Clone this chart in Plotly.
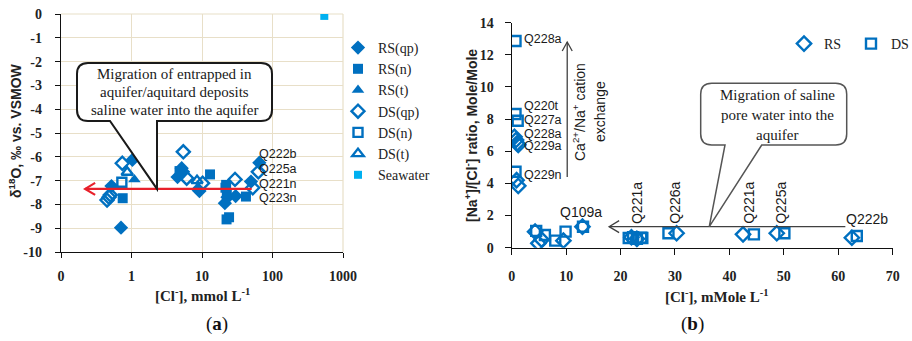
import math
import plotly.graph_objects as go

W, H = 912, 341
BLUE = "#0070C0"
SEA = "#00B0F0"
SERIF = "Liberation Serif"
SANS = "Liberation Sans"
GRID = "#E8DFC8"

# ---------------- panel (a): d18O versus chloride (log scale) ----------------
rs_qp_cl = [1.03, 0.52, 0.71, 4.5, 5.15, 5.4, 9.2, 8.8, 21.1, 23.0, 30.0, 49.5, 65.0]
rs_qp_d18o = [-6.13, -7.23, -8.98, -6.85, -6.48, -6.63, -7.44, -7.37, -7.95, -7.7, -7.65, -7.04, -6.25]
rs_n_cl = [0.75, 4.8, 13.0, 22.0, 22.5, 21.5, 22.3, 24.2, 42.0]
rs_n_d18o = [-7.74, -6.6, -6.74, -7.18, -7.53, -7.3, -8.63, -8.54, -7.67]
rs_t_cl = [1.1]
rs_t_d18o = [-6.95]
ds_qp_cl = [0.74, 0.45, 0.48, 0.5, 5.43, 6.07, 10.2, 29.4, 52.5, 63.0]
ds_qp_d18o = [-6.27, -7.82, -7.7, -7.6, -5.79, -6.9, -7.11, -6.95, -7.3, -6.63]
ds_n_cl = [0.73]
ds_n_d18o = [-7.07]
ds_t_cl = [0.87, 8.5]
ds_t_d18o = [-6.65, -7.0]
sea_cl = [543]
sea_d18o = [-0.08]

a_xtickvals = [0.1, 1, 10, 100, 1000]
a_xticktext = ["0", "1", "10", "100", "1000"]
a_ytickvals = [-10, -9, -8, -7, -6, -5, -4, -3, -2, -1, 0]
a_yticktext = ["-10", "-9", "-8", "-7", "-6", "-5", "-4", "-3", "-2", "-1", "0"]
a_labels = ["Q222b", "Q225a", "Q221n", "Q223n"]
a_label_y = [-5.9, -6.52, -7.15, -7.72]
a_label_x = 61.0
mix_line_y = -7.35
mix_line_from, mix_line_to = 50.7, 0.22
a_callout_apex = (2.3, -7.35)
a_callout_lines = ["Migration of entrapped in", "aquifer/aquitard deposits",
                   "saline water into the aquifer"]

# ---------------- panel (b): Na/Cl ratio versus chloride ----------------
rs_cl_b = [0.5, 0.8, 1.0, 1.2, 0.9, 1.2, 4.3, 4.9, 5.5, 9.5, 13.0, 22.0, 23.0, 30.3, 42.5, 48.7, 62.5]
rs_ratio = [6.9, 6.7, 6.5, 6.4, 4.2, 3.85, 1.0, 0.27, 0.5, 0.44, 1.31, 0.65, 0.55, 0.9, 0.83, 0.9, 0.62]
ds_cl_b = [0.7, 0.7, 1.1, 0.7, 4.5, 6.1, 8.0, 9.9, 13.1, 21.5, 22.3, 23.0, 23.8, 24.0, 28.8, 44.5, 50.1, 63.4]
ds_ratio = [12.86, 8.32, 7.9, 4.73, 1.05, 0.79, 0.44, 1.0, 1.3, 0.6, 0.65, 0.55, 0.62, 0.6, 0.9, 0.83, 0.9, 0.73]

b_xtickvals = [0, 10, 20, 30, 40, 50, 60, 70]
b_ytickvals = [0, 2, 4, 6, 8, 10, 12, 14]
b_left_labels = ["Q228a", "Q220t", "Q227a", "Q228a", "Q229a", "Q229n"]
b_left_label_y = [13.0, 8.8, 7.95, 7.1, 6.3, 4.5]
b_left_label_x = 1.85
b_vert_labels = ["Q221a", "Q226a", "Q221a", "Q225a"]
b_vert_label_x = [22.9, 30.0, 43.6, 49.5]
b_vert_label_y = 2.8
b_h_labels = [("Q109a", 8.5, 2.2), ("Q222b", 61.0, 1.8)]
exch_arrow_x, exch_arrow_from, exch_arrow_to = 10.2, 4.4, 12.8
pore_arrow_y, pore_arrow_from, pore_arrow_to = 1.31, 61.3, 17.9
b_callout_apex = (36.3, 1.31)
b_callout_lines = ["Migration of saline", "pore water into the", "aquifer"]

# panel placement (paper fractions of the 912 x 341 page)
ax_dom = [61 / W, 343 / W]
ay_dom = [1 - 252 / H, 1 - 14 / H]
bx_dom = [511.7 / W, 892.7 / W]
by_dom = [1 - 247.7 / H, 1 - 22.7 / H]
a_xrange = [-1, 3]
a_yrange = [-10, 0]
b_xrange = [0, 70]
b_yrange = [0, 14]


def ax_p(v):
    return ax_dom[0] + (math.log10(v) - a_xrange[0]) / (a_xrange[1] - a_xrange[0]) * (ax_dom[1] - ax_dom[0])


def ay_p(v):
    return ay_dom[0] + (v - a_yrange[0]) / (a_yrange[1] - a_yrange[0]) * (ay_dom[1] - ay_dom[0])


def bx_p(v):
    return bx_dom[0] + (v - b_xrange[0]) / (b_xrange[1] - b_xrange[0]) * (bx_dom[1] - bx_dom[0])


def by_p(v):
    return by_dom[0] + (v - b_yrange[0]) / (b_yrange[1] - b_yrange[0]) * (by_dom[1] - by_dom[0])


def px(x):
    return x / W


def py(y):
    return 1 - y / H


def bold(labels):
    return [f"<b>{t}</b>" for t in labels]


fig = go.Figure()

open_line = dict(width=2.4, color=BLUE)
fig.add_trace(go.Scatter(x=rs_qp_cl, y=rs_qp_d18o, mode="markers", name="RS(qp)",
                         marker=dict(symbol="diamond", size=11, color=BLUE), xaxis="x", yaxis="y"))
fig.add_trace(go.Scatter(x=rs_n_cl, y=rs_n_d18o, mode="markers", name="RS(n)",
                         marker=dict(symbol="square", size=10, color=BLUE), xaxis="x", yaxis="y"))
fig.add_trace(go.Scatter(x=rs_t_cl, y=rs_t_d18o, mode="markers", name="RS(t)",
                         marker=dict(symbol="triangle-up", size=11, color=BLUE), xaxis="x", yaxis="y"))
fig.add_trace(go.Scatter(x=ds_qp_cl, y=ds_qp_d18o, mode="markers", name="DS(qp)",
                         marker=dict(symbol="diamond-open", size=10, color=BLUE, line=open_line),
                         xaxis="x", yaxis="y"))
fig.add_trace(go.Scatter(x=ds_n_cl, y=ds_n_d18o, mode="markers", name="DS(n)",
                         marker=dict(symbol="square-open", size=9, color=BLUE, line=open_line),
                         xaxis="x", yaxis="y"))
fig.add_trace(go.Scatter(x=ds_t_cl, y=ds_t_d18o, mode="markers", name="DS(t)",
                         marker=dict(symbol="triangle-up-open", size=10, color=BLUE, line=open_line),
                         xaxis="x", yaxis="y"))
fig.add_trace(go.Scatter(x=sea_cl, y=sea_d18o, mode="markers", name="Seawater",
                         marker=dict(symbol="square", size=8, color=SEA), xaxis="x", yaxis="y"))

fig.add_trace(go.Scatter(x=rs_cl_b, y=rs_ratio, mode="markers", name="RS", legend="legend2",
                         marker=dict(symbol="diamond-open", size=11, color=BLUE, line=open_line),
                         xaxis="x2", yaxis="y2"))
fig.add_trace(go.Scatter(x=ds_cl_b, y=ds_ratio, mode="markers", name="DS", legend="legend2",
                         marker=dict(symbol="square-open", size=10, color=BLUE, line=open_line),
                         xaxis="x2", yaxis="y2"))

tickfont = dict(family=SERIF, size=14, color="#222222")
axis_common = dict(showline=True, linecolor="#111111", linewidth=1.4, ticks="outside",
                   tickcolor="#111111", tickfont=tickfont, zeroline=False, automargin=False)
fig.update_layout(
    width=W, height=H, margin=dict(l=0, r=0, t=0, b=0, autoexpand=False),
    paper_bgcolor="white", plot_bgcolor="white",
    xaxis=dict(type="log", domain=ax_dom, range=a_xrange, tickvals=a_xtickvals,
               ticktext=bold(a_xticktext), showgrid=True, gridcolor=GRID, gridwidth=1.2,
               ticklen=5, ticklabelstandoff=6, anchor="y", **axis_common),
    yaxis=dict(domain=ay_dom, range=a_yrange, tickvals=a_ytickvals, ticktext=bold(a_yticktext),
               showgrid=True, gridcolor=GRID, gridwidth=1.2, ticklen=5, ticklabelstandoff=10,
               anchor="x", **axis_common),
    xaxis2=dict(domain=bx_dom, range=b_xrange, tickvals=b_xtickvals,
                ticktext=bold([str(v) for v in b_xtickvals]), showgrid=False, ticklen=6,
                ticklabelstandoff=9, anchor="y2", **axis_common),
    yaxis2=dict(domain=by_dom, range=b_yrange, tickvals=b_ytickvals,
                ticktext=bold([str(v) for v in b_ytickvals]), showgrid=False, ticklen=6,
                ticklabelstandoff=8, anchor="x2", **axis_common),
    legend=dict(x=338 / W, y=py(32), xanchor="left", yanchor="top", bgcolor="rgba(0,0,0,0)",
                font=dict(family=SERIF, size=14, color="#222222"), itemwidth=30, tracegroupgap=0),
    legend2=dict(x=784 / W, y=py(28), xanchor="left", yanchor="top", orientation="h",
                 bgcolor="rgba(0,0,0,0)", font=dict(family=SERIF, size=14, color="#222222"),
                 entrywidth=22, entrywidthmode="pixels", itemwidth=30),
)

shapes = []
# light frame on the top and right of panel (a)
shapes.append(dict(type="line", xref="paper", yref="paper", x0=ax_dom[0], x1=ax_dom[1],
                   y0=ay_dom[1], y1=ay_dom[1], line=dict(color=GRID, width=1.2), layer="below"))
shapes.append(dict(type="line", xref="paper", yref="paper", x0=ax_dom[1], x1=ax_dom[1],
                   y0=ay_dom[0], y1=ay_dom[1], line=dict(color=GRID, width=1.2), layer="below"))


def callout(x0, y0, x1, y1, r, wl, wr, apx, apy, color, width):
    """Rounded box (pixel units) with a wedge pointing to a paper-space apex."""
    P = lambda x, y: f"{px(x):.5f},{py(y):.5f}"
    path = (f"M {P(x0 + r, y0)} L {P(x1 - r, y0)} Q {P(x1, y0)} {P(x1, y0 + r)} "
            f"L {P(x1, y1 - r)} Q {P(x1, y1)} {P(x1 - r, y1)} L {P(wr, y1)} "
            f"L {apx:.5f},{apy:.5f} L {P(wl, y1)} L {P(x0 + r, y1)} "
            f"Q {P(x0, y1)} {P(x0, y1 - r)} L {P(x0, y0 + r)} Q {P(x0, y0)} {P(x0 + r, y0)} Z")
    return dict(type="path", xref="paper", yref="paper", path=path, fillcolor="white",
                line=dict(color=color, width=width), layer="above")


def arrow(tx, ty, dx_px, dy_px, color, width, back=9, half=5):
    """Open chevron head at (tx, ty); (dx_px, dy_px) is the unit direction of travel."""
    bx, by = -dx_px * back, -dy_px * back
    nx, ny = -dy_px * half, dx_px * half
    p1 = (tx + (bx + nx) / W, ty - (by + ny) / H)
    p2 = (tx + (bx - nx) / W, ty - (by - ny) / H)
    path = f"M {p1[0]:.5f},{p1[1]:.5f} L {tx:.5f},{ty:.5f} L {p2[0]:.5f},{p2[1]:.5f}"
    return dict(type="path", xref="paper", yref="paper", path=path,
                line=dict(color=color, width=width), layer="above")


# panel (a) red mixing line with arrow head
RED = "#E8202A"
shapes.append(dict(type="line", xref="paper", yref="paper", x0=ax_p(mix_line_from), x1=ax_p(mix_line_to),
                   y0=ay_p(mix_line_y), y1=ay_p(mix_line_y), line=dict(color=RED, width=2.2), layer="above"))
shapes.append(arrow(ax_p(mix_line_to), ay_p(mix_line_y), -1, 0, RED, 2.2, back=10, half=6))
shapes.append(callout(77, 63, 272, 121, 11, 110, 157, ax_p(a_callout_apex[0]), ay_p(a_callout_apex[1]),
                      "#1a1a1a", 2))

# panel (b) arrows and callout
GRAY = "#404040"
shapes.append(dict(type="line", xref="paper", yref="paper", x0=bx_p(exch_arrow_x), x1=bx_p(exch_arrow_x),
                   y0=by_p(exch_arrow_from), y1=by_p(exch_arrow_to), line=dict(color=GRAY, width=1.3)))
shapes.append(arrow(bx_p(exch_arrow_x), by_p(exch_arrow_to), 0, -1, GRAY, 1.3, back=9, half=5))
shapes.append(dict(type="line", xref="paper", yref="paper", x0=bx_p(pore_arrow_from), x1=bx_p(pore_arrow_to),
                   y0=by_p(pore_arrow_y), y1=by_p(pore_arrow_y), line=dict(color=GRAY, width=1.3)))
shapes.append(arrow(bx_p(pore_arrow_to), by_p(pore_arrow_y), -1, 0, GRAY, 1.3, back=10, half=6))
shapes.append(callout(700.7, 83.3, 846.7, 145, 11, 725, 761.7, bx_p(b_callout_apex[0]),
                      by_p(b_callout_apex[1]), "#555555", 1.5))

fig.update_layout(shapes=shapes)

ann = []


def text(t, x, y, font, xanchor="center", angle=0):
    ann.append(dict(text=t, x=x, y=y, xref="paper", yref="paper", xanchor=xanchor,
                    yanchor="middle", textangle=angle, showarrow=False, font=font))


qfont = dict(family=SANS, size=12.5, color="#1a1a1a")
vfont = dict(family=SANS, size=14, color="#1a1a1a")
serif15 = dict(family=SERIF, size=15, color="#1a1a1a")
for t, yv in zip(a_labels, a_label_y):
    text(t, ax_p(a_label_x), ay_p(yv), qfont, xanchor="left")
for i, t in enumerate(a_callout_lines):
    text(t, px(174.5), py(74 + 18 * i), serif15)
for t, yv in zip(b_left_labels, b_left_label_y):
    text(t, bx_p(b_left_label_x), by_p(yv), qfont, xanchor="left")
for t, xv in zip(b_vert_labels, b_vert_label_x):
    text(t, bx_p(xv), by_p(b_vert_label_y), vfont, angle=-90)
for t, xv, yv in b_h_labels:
    text(t, bx_p(xv), by_p(yv), vfont, xanchor="left")
for i, t in enumerate(b_callout_lines):
    text(t, px(777), py(95 + 20 * i), serif15)
text("Ca<sup>2+</sup>/Na<sup>+</sup> cation", px(579), py(112), vfont, angle=-90)
text("exchange", px(600), py(112), vfont, angle=-90)

# axis titles and panel tags
text("<b>δ<sup>18</sup>O, ‰ vs. VSMOW</b>", px(15), py(131),
     dict(family=SANS, size=14, color="#222222"), angle=-90)
text("<b>[Cl<sup>-</sup>], mmol L<sup>-1</sup></b>", px(202), py(295),
     dict(family=SERIF, size=15, color="#222222"))
text("<b>[Na<sup>+</sup>]/[Cl<sup>-</sup>] ratio, Mole/Mole</b>", px(471), py(136),
     dict(family=SANS, size=14, color="#222222"), angle=-90)
text("<b>[Cl<sup>-</sup>], mMole L<sup>-1</sup></b>", px(716), py(296),
     dict(family=SERIF, size=15, color="#222222"))
text("(<b>a</b>)", px(217), py(324), dict(family=SERIF, size=19, color="#111111"))
text("(<b>b</b>)", px(692), py(324), dict(family=SERIF, size=19, color="#111111"))

fig.update_layout(annotations=ann)
fig.write_html("out.html")
